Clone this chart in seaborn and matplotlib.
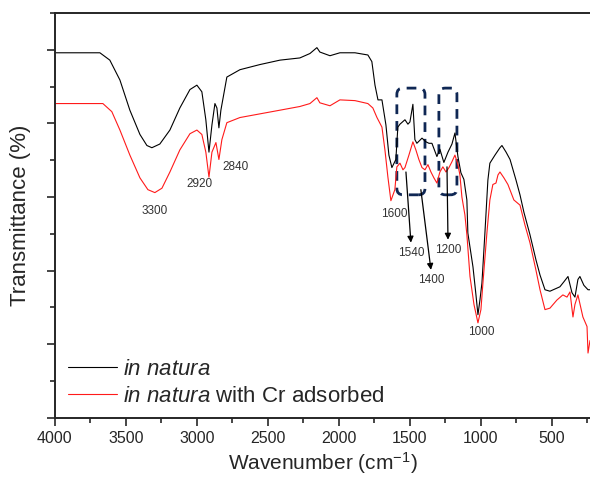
import numpy as np
import pandas as pd
import seaborn as sns
import matplotlib.pyplot as plt
from matplotlib.patches import FancyBboxPatch
from matplotlib.ticker import MultipleLocator

# 光谱数据（从图中读取，纵轴为任意单位）
wn_black = [4000, 3683, 3613, 3542, 3472, 3401, 3352, 3317, 3261, 3190, 3120, 3049, 3000,
            2965, 2937, 2915, 2894, 2873, 2859, 2845, 2831, 2789, 2697, 2556, 2415, 2275,
            2204, 2155, 2134, 2063, 1993, 1887, 1796, 1768, 1746, 1725, 1697, 1669, 1648,
            1627, 1599, 1585, 1570, 1535, 1514, 1500, 1479, 1465, 1451, 1415, 1387, 1366,
            1345, 1310, 1289, 1261, 1232, 1204, 1183, 1162, 1141, 1120, 1099, 1092, 1056,
            1035, 1021, 1007, 993, 972, 951, 937, 901, 866, 852, 823, 795, 753, 725, 697,
            655, 613, 584, 549, 514, 479, 444, 415, 387, 359, 338, 317, 303, 275, 246, 232]
t_black = [4.96, 4.96, 4.86, 4.59, 4.18, 3.85, 3.70, 3.67, 3.72, 3.91, 4.21, 4.46, 4.52,
           4.43, 4.05, 3.61, 3.98, 4.27, 4.21, 3.94, 4.18, 4.63, 4.73, 4.80, 4.86, 4.89,
           4.95, 5.03, 4.97, 4.92, 4.96, 4.96, 4.93, 4.84, 4.52, 4.32, 4.32, 3.98, 3.57,
           3.40, 3.51, 3.95, 3.99, 4.05, 3.99, 4.02, 4.26, 3.78, 3.73, 3.80, 3.75, 3.73,
           3.73, 3.55, 3.65, 3.47, 3.61, 3.72, 3.87, 3.55, 3.33, 3.24, 2.96, 2.51, 2.05,
           1.67, 1.40, 1.60, 1.83, 2.51, 3.23, 3.46, 3.57, 3.67, 3.70, 3.61, 3.51, 3.23,
           3.03, 2.79, 2.49, 2.15, 1.94, 1.74, 1.72, 1.75, 1.78, 1.85, 1.92, 1.70, 1.64,
           1.88, 1.92, 1.80, 1.74, 1.74]

wn_red = [4000, 3662, 3599, 3542, 3472, 3401, 3345, 3296, 3246, 3190, 3120, 3049, 3000,
          2965, 2937, 2915, 2894, 2866, 2845, 2824, 2789, 2697, 2556, 2415, 2275, 2204,
          2155, 2134, 2063, 1993, 1887, 1796, 1761, 1732, 1697, 1676, 1655, 1634, 1606,
          1592, 1570, 1549, 1535, 1507, 1479, 1458, 1437, 1415, 1394, 1373, 1352, 1331,
          1310, 1289, 1268, 1246, 1225, 1204, 1183, 1162, 1148, 1134, 1113, 1099, 1077,
          1049, 1021, 1000, 986, 958, 937, 916, 894, 880, 866, 838, 810, 768, 725, 690,
          655, 613, 584, 549, 514, 465, 423, 394, 373, 352, 338, 317, 282, 253, 246, 232]
t_red = [4.27, 4.27, 4.16, 3.91, 3.57, 3.26, 3.10, 3.06, 3.12, 3.34, 3.64, 3.86, 3.91,
         3.85, 3.61, 3.27, 3.61, 3.74, 3.51, 3.78, 4.01, 4.08, 4.13, 4.18, 4.23, 4.27,
         4.35, 4.28, 4.24, 4.32, 4.31, 4.27, 4.21, 4.08, 3.95, 3.64, 3.27, 2.95, 3.10,
         3.41, 3.46, 3.37, 3.40, 3.57, 3.75, 3.64, 3.51, 3.40, 3.37, 3.44, 3.34, 3.26,
         3.19, 3.34, 3.41, 3.34, 3.40, 3.48, 3.57, 3.44, 3.30, 3.00, 2.76, 2.49, 1.92,
         1.54, 1.29, 1.47, 1.83, 2.51, 2.96, 3.17, 3.19, 3.30, 3.34, 3.26, 3.17, 2.96,
         2.89, 2.62, 2.38, 2.01, 1.74, 1.47, 1.49, 1.60, 1.67, 1.64, 1.71, 1.37, 1.54,
         1.67, 1.37, 1.24, 0.88, 1.05]

# 峰位标注 (文字, x, y)
peak_labels = ['3300', '2920', '2840', '1600', '1000']
peak_x = [3296, 2979, 2725, 1613, 1000]
peak_y = [2.81, 3.18, 3.41, 2.77, 1.17]

# 带箭头的标注 (文字, 箭头起点, 箭头终点)
arrow_labels = ['1540', '1400', '1200']
arrow_start = [(1528, 3.34), (1423, 3.10), (1239, 3.41)]
arrow_end = [(1493, 2.38), (1352, 2.01), (1232, 2.42)]

sns.set_style('ticks')
plt.rcParams['font.family'] = ['Liberation Sans', 'DejaVu Sans']
plt.rcParams['mathtext.fontset'] = 'custom'
plt.rcParams['mathtext.rm'] = 'Liberation Sans'
plt.rcParams['mathtext.it'] = 'Liberation Sans:italic'

fig = plt.figure(figsize=(5.9, 4.83), dpi=100)
ax = fig.add_axes([0.093, 0.135, 0.907, 0.838])

sns.lineplot(x=wn_black, y=t_black, sort=False, color='black', lw=0.8, ax=ax,
             label=r'$\mathit{in\ natura}$')
sns.lineplot(x=wn_red, y=t_red, sort=False, color='#ff1a1a', lw=0.8, ax=ax,
             label=r'$\mathit{in\ natura}$ with Cr adsorbed')

ax.set_xlim(4000, 232)
ax.set_ylim(0, 5.5)
ax.xaxis.set_major_locator(MultipleLocator(500))
ax.xaxis.set_minor_locator(MultipleLocator(250))
ax.yaxis.set_major_locator(MultipleLocator(1))
ax.yaxis.set_minor_locator(MultipleLocator(0.5))
ax.set_yticklabels([])
ax.tick_params(which='major', length=6, width=1.2, labelsize=11.5, direction='out')
ax.tick_params(which='minor', length=3.5, width=1.2, direction='out')
ax.tick_params(top=False, right=False)
ax.spines['right'].set_visible(False)
for s in ['left', 'bottom', 'top']:
    ax.spines[s].set_linewidth(1.4)

ax.set_xlabel('Wavenumber (cm$^{-1}$)', fontsize=15, labelpad=3)
ax.set_ylabel('Transmittance (%)', fontsize=16, labelpad=8)

# 峰位文字
for lab, x, y in zip(peak_labels, peak_x, peak_y):
    ax.text(x, y, lab, fontsize=8.5, color='#333333', ha='center', va='center')

for lab, p0, p1 in zip(arrow_labels, arrow_start, arrow_end):
    ax.annotate('', xy=p1, xytext=p0,
                arrowprops=dict(arrowstyle='-|>', color='black', lw=0.9,
                                mutation_scale=9, shrinkA=0, shrinkB=0))
    ax.text(p1[0], p1[1] - 0.06, lab, fontsize=8.5, color='#333333',
            ha='center', va='top')

# 虚线框
for x0, x1 in [(1394, 1592), (1169, 1296)]:
    box = FancyBboxPatch((x0, 3.03), x1 - x0, 1.45,
                         boxstyle='round,pad=0,rounding_size=45',
                         mutation_aspect=0.0019, fill=False,
                         edgecolor='#0f2754', lw=2.0, linestyle=(0, (3.5, 2.5)))
    ax.add_patch(box)

ax.legend(loc='center left', bbox_to_anchor=(0.024, 0.086), frameon=False,
          fontsize=16, handlelength=2.2, handletextpad=0.3, labelspacing=0.25,
          borderpad=0, borderaxespad=0)

fig.savefig('out.png', dpi=100)
